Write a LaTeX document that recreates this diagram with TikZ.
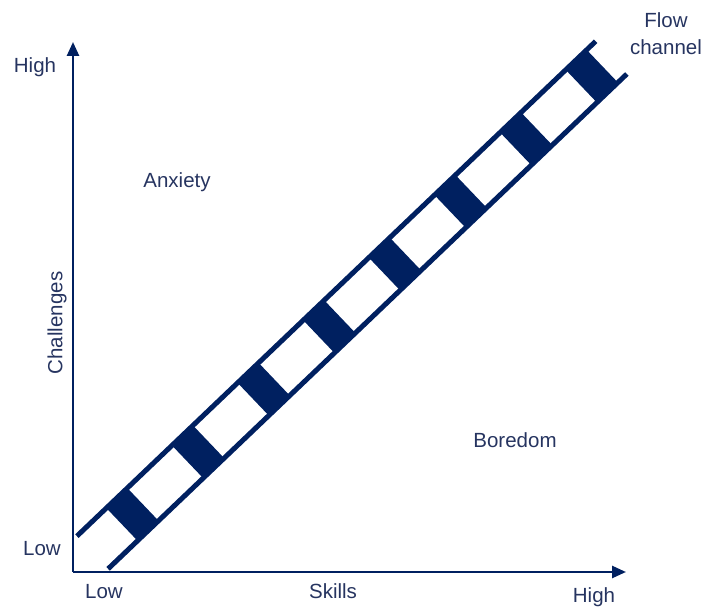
\documentclass[tikz,border=0pt]{standalone}
\usepackage{fontspec}
\setmainfont{Liberation Sans}
\usetikzlibrary{arrows.meta}
\definecolor{navy}{RGB}{0,32,96}
\definecolor{labelblue}{RGB}{38,52,96}
\begin{document}
\begin{tikzpicture}[x=1pt,y=1pt,
  axis/.style={navy,line width=2.6pt,-{Triangle[length=14pt,width=12pt]}},
  rail/.style={navy,line width=5pt},
  rung/.style={fill=navy,draw=none},
  lbl/.style={text=labelblue,font=\fontsize{20.5}{24}\selectfont,inner sep=0pt}]
\useasboundingbox (0,0) rectangle (705,608);
% axes
\coordinate (origin) at (73,36);
\coordinate (ytip) at (73,566);
\coordinate (xtip) at (626,36);
\draw[axis] (origin) -- (ytip);
\draw[axis] (origin) -- (xtip);
% flow channel ladder
\begin{scope}[shift={(92.5,55.5)},rotate=43.65]
  \coordinate (ua) at (0,22.6);
  \coordinate (ub) at (717,22.6);
  \coordinate (la) at (0,-22.6);
  \coordinate (lb) at (717,-22.6);
  \draw[rail] (ua) -- (ub);
  \draw[rail] (la) -- (lb);
  \foreach \i in {0,...,7}{
    \fill[rung] ({55.2+90.7*\i-14.5},-22.6) rectangle ({55.2+90.7*\i+14.5},22.6);
  }
\end{scope}
% labels
\node[lbl] (yhigh) at (35,541) {High};
\node[lbl] (ylow) at (42,59) {Low};
\node[lbl] (xlow) at (104,16) {Low};
\node[lbl] (skills) at (333,17) {Skills};
\node[lbl] (xhigh) at (594,11) {High};
\node[lbl,rotate=90] (challenges) at (57,285) {Challenges};
\node[lbl] (anxiety) at (177,426) {Anxiety};
\node[lbl] (boredom) at (515,168) {Boredom};
\node[lbl,align=center,font=\fontsize{20.5}{27}\selectfont] (flow) at (666,574) {Flow\\channel};
\end{tikzpicture}
\end{document}
